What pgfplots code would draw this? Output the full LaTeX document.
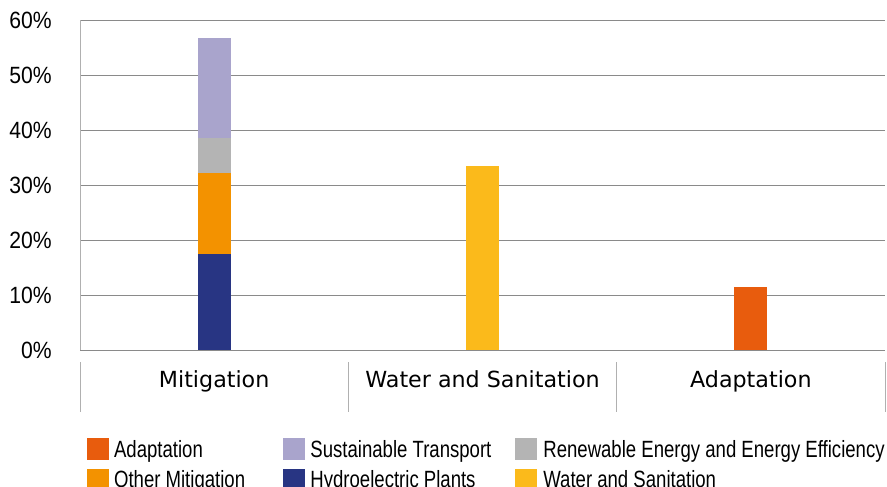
\documentclass[border=0pt]{standalone}
\usepackage{pgfplots}
\pgfplotsset{compat=1.18}
\usepackage{fontspec}
\setmainfont{Liberation Sans}
\newfontfamily\legfont[FakeStretch=0.79]{Liberation Sans}
\newfontfamily\tickfont[FakeStretch=0.9]{Liberation Sans}
\newfontfamily\catfont{DejaVu Sans}
\definecolor{hydro}{HTML}{283583}
\definecolor{othermit}{HTML}{F39200}
\definecolor{renew}{HTML}{B4B4B4}
\definecolor{sust}{HTML}{A9A4CC}
\definecolor{water}{HTML}{FBBA1B}
\definecolor{adapt}{HTML}{E85C0D}
\definecolor{gridgray}{HTML}{8A8A8A}
\definecolor{lightax}{HTML}{B0B0B0}
\newcommand{\legtext}[2]{\makebox[#1][l]{\raisebox{-9bp}{\smash{#2}}}}
\begin{document}
\begin{tikzpicture}
\useasboundingbox (0,0) rectangle (887bp,487bp);
\begin{axis}[
  at={(80bp,137bp)}, anchor=south west,
  scale only axis, width=805bp, height=330bp,
  xmin=-0.5, xmax=2.5, ymin=0, ymax=60,
  ybar stacked, bar width=33bp,
  axis x line*=bottom, axis y line*=left,
  x axis line style={draw=gridgray, line width=1bp, -},
  y axis line style={draw=lightax, line width=1bp, -},
  major tick length=0pt,
  ytick={0,10,20,30,40,50,60},
  yticklabels={0\%,10\%,20\%,30\%,40\%,50\%,60\%},
  yticklabel style={font=\tickfont\fontsize{23.5bp}{25bp}\selectfont, anchor=east, inner sep=0pt, xshift=-28bp},
  ymajorgrids, grid style={draw=gridgray, line width=1bp},
  xtick={0,1,2},
  xticklabels={Mitigation,Water and Sanitation,Adaptation},
  xticklabel style={font=\catfont\fontsize{22.2bp}{24bp}\selectfont, anchor=base, inner sep=0pt, yshift=-37bp},
  clip=false,
  legend columns=3,
  legend cell align=left,
  legend style={at={([xshift=3.5bp,yshift=-86bp]axis description cs:0,0)}, anchor=north west,
    draw=none, fill=none, font=\legfont\fontsize{23.5bp}{25bp}\selectfont,
    nodes={inner sep=0pt}, column sep=0pt, row sep=9bp},
]
\addplot[fill=hydro, draw=none, forget plot] coordinates {(0,17.5) (1,0) (2,0)};
\addplot[fill=othermit, draw=none, forget plot] coordinates {(0,14.7) (1,0) (2,0)};
\addplot[fill=renew, draw=none, forget plot] coordinates {(0,6.4) (1,0) (2,0)};
\addplot[fill=sust, draw=none, forget plot] coordinates {(0,18.1) (1,0) (2,0)};
\addplot[fill=water, draw=none, forget plot] coordinates {(0,0) (1,33.4) (2,0)};
\addplot[fill=adapt, draw=none, forget plot] coordinates {(0,0) (1,0) (2,11.5)};
\addlegendimage{legend image code/.code={\fill[adapt] (0bp,-10.5bp) rectangle (21bp,10.5bp); \path (27bp,0bp);}}
\addlegendentry{\legtext{169bp}{Adaptation}}
\addlegendimage{legend image code/.code={\fill[sust] (0bp,-10.5bp) rectangle (21bp,10.5bp); \path (27bp,0bp);}}
\addlegendentry{\legtext{205bp}{Sustainable Transport}}
\addlegendimage{legend image code/.code={\fill[renew] (0bp,-10.5bp) rectangle (21bp,10.5bp); \path (27bp,0bp);}}
\addlegendentry{\legtext{0bp}{Renewable Energy and Energy Efficiency}}
\addlegendimage{legend image code/.code={\fill[othermit] (0bp,-10.5bp) rectangle (21bp,10.5bp); \path (27bp,0bp);}}
\addlegendentry{\legtext{169bp}{Other Mitigation}}
\addlegendimage{legend image code/.code={\fill[hydro] (0bp,-10.5bp) rectangle (21bp,10.5bp); \path (27bp,0bp);}}
\addlegendentry{\legtext{205bp}{Hydroelectric Plants}}
\addlegendimage{legend image code/.code={\fill[water] (0bp,-10.5bp) rectangle (21bp,10.5bp); \path (27bp,0bp);}}
\addlegendentry{\legtext{0bp}{Water and Sanitation}}
\draw[lightax, line width=1bp] (axis cs:-0.5,0) ++(0bp,-12bp) -- ++(0bp,-50bp);
\draw[lightax, line width=1bp] (axis cs:0.5,0) ++(0bp,-12bp) -- ++(0bp,-50bp);
\draw[lightax, line width=1bp] (axis cs:1.5,0) ++(0bp,-12bp) -- ++(0bp,-50bp);
\draw[lightax, line width=1bp] (axis cs:2.5,0) ++(0bp,-12bp) -- ++(0bp,-50bp);
\end{axis}
\end{tikzpicture}
\end{document}
